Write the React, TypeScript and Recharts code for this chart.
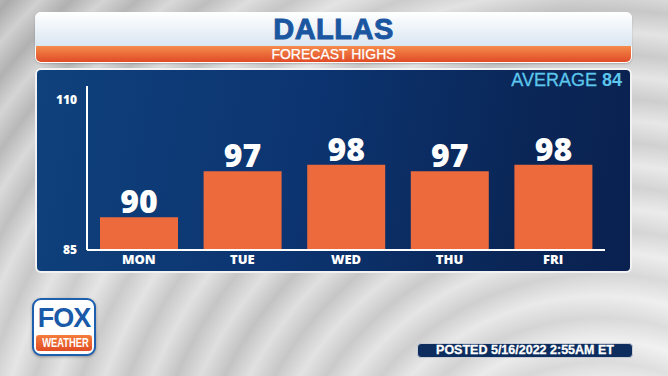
import React from 'react';
import { BarChart, Bar, XAxis, YAxis, LabelList } from 'recharts';

const days = ['MON', 'TUE', 'WED', 'THU', 'FRI'];
const highs = [90, 97, 98, 97, 98];
const yTicks = [85, 110];
const cityTitle = 'DALLAS';
const subTitle = 'FORECAST HIGHS';
const averageLabel = 'AVERAGE';
const averageValue = 84;
const postedText = 'POSTED 5/16/2022 2:55AM ET';

const data = days.map((d, i) => ({ day: d, high: highs[i] }));

const YTick = (props: any) => {
  const { x, y, payload } = props;
  const dy = payload.value === 110 ? 13 : -1;
  return (
    <text x={x} y={y + dy} textAnchor="end" dominantBaseline="central" fill="#fff" fontSize={12} fontWeight={800} fontFamily="'Open Sans', sans-serif">
      {payload.value}
    </text>
  );
};

export default function App() {
  return (
    <div style={{ position: 'absolute', left: 0, top: 0, width: 668, height: 376, overflow: 'hidden', fontFamily: "'Liberation Sans', Arial, sans-serif",
      background: 'repeating-radial-gradient(circle at 600px 560px, rgba(255,255,255,0.35) 0px, rgba(0,0,0,0.05) 22px, rgba(255,255,255,0.35) 44px), linear-gradient(135deg, #b3b3b3 0%, #d8d8d8 35%, #cdcdcd 55%, #ececec 100%)' }}>
      {/* header */}
      <div style={{ position: 'absolute', left: 35, top: 12, width: 597, height: 51, borderRadius: 6, background: '#fff', boxShadow: '0 1px 2px rgba(0,0,0,0.2)' }}>
        <div style={{ position: 'absolute', left: 0, top: 0, width: 597, height: 34, borderRadius: '6px 6px 0 0', background: 'linear-gradient(#ffffff, #d9e6f1)', textAlign: 'center', lineHeight: '34px', color: '#1b56a1', fontSize: 29, fontWeight: 700, WebkitTextStroke: '0.9px #1b56a1', letterSpacing: 0.5 }}>
          {cityTitle}
        </div>
        <div style={{ position: 'absolute', left: 1, top: 34, width: 595, height: 16, borderRadius: '0 0 5px 5px', background: 'linear-gradient(#f58c4b, #e04b27)', textAlign: 'center', lineHeight: '16px', color: '#fff', fontSize: 14, WebkitTextStroke: '0.25px #fff' }}>
          {subTitle}
        </div>
      </div>
      {/* panel */}
      <div style={{ position: 'absolute', left: 35, top: 68, width: 597, height: 205, boxSizing: 'border-box', border: '2px solid #f2f2f2', borderRadius: 6, background: 'linear-gradient(100deg, #0f417c 0%, #0c3470 45%, #0a2657 80%, #0a2150 100%)' }} />
      <div style={{ position: 'absolute', right: 46, top: 70, height: 20, lineHeight: '20px', color: '#5cc6ec', fontSize: 18, fontFamily: "'Liberation Sans', sans-serif" }}>
        <span style={{ WebkitTextStroke: '0.3px #5cc6ec' }}>{averageLabel} </span>
        <span style={{ fontWeight: 700 }}>{averageValue}</span>
      </div>
      <div style={{ position: 'absolute', left: 35, top: 68 }}>
        <BarChart width={597} height={205} data={data} margin={{ top: 18, right: 27, bottom: 0, left: 0 }} barSize={78}>
          <XAxis dataKey="day" axisLine={{ stroke: '#fff', strokeWidth: 2 }} tickLine={false} tickSize={0} tickMargin={5} height={23}
            tick={{ fill: '#fff', fontSize: 13, fontWeight: 800, fontFamily: "'Open Sans', sans-serif" }} interval={0} />
          <YAxis domain={[85, 110]} ticks={yTicks} interval={0} width={52} axisLine={{ stroke: '#fff', strokeWidth: 2 }} tickLine={false} tickSize={0} tickMargin={10} tick={<YTick />} allowDataOverflow />
          <Bar dataKey="high" fill="#ec6a3c" isAnimationActive={false}>
            <LabelList dataKey="high" position="top" offset={4} fill="#fff" fontSize={32} fontWeight={800} fontFamily="'Open Sans', sans-serif" />
          </Bar>
        </BarChart>
      </div>
      {/* fox weather logo */}
      <div style={{ position: 'absolute', left: 32, top: 298, width: 64, height: 58, boxSizing: 'border-box', border: '2px solid #1d5fae', borderRadius: 9, background: '#fff', boxShadow: '0 1px 3px rgba(0,0,0,0.3)' }}>
        <div style={{ position: 'absolute', left: 0, top: 4, width: 60, textAlign: 'center', color: '#1a5aa8', fontSize: 27, fontWeight: 900, lineHeight: '28px', letterSpacing: -1 }}>FOX</div>
        <div style={{ position: 'absolute', left: 2, top: 35, width: 56, height: 16, borderRadius: 3, background: 'linear-gradient(#f47d3c, #e14c24)' }}>
          <div style={{ width: 56, textAlign: 'center', color: '#fff', fontSize: 12, fontWeight: 700, lineHeight: '16px', transform: 'scaleX(0.78)', transformOrigin: 'center', whiteSpace: 'nowrap' }}>WEATHER</div>
        </div>
      </div>
      {/* posted */}
      <div style={{ position: 'absolute', left: 417, top: 343, width: 216, height: 15, boxSizing: 'border-box', border: '1px solid #c9ced6', borderRadius: 4, background: '#0d2d5e', color: '#fff', fontSize: 12.5, fontWeight: 700, textAlign: 'center', lineHeight: '13px', whiteSpace: 'nowrap', WebkitTextStroke: '0.3px #fff' }}>
        {postedText}
      </div>
    </div>
  );
}
